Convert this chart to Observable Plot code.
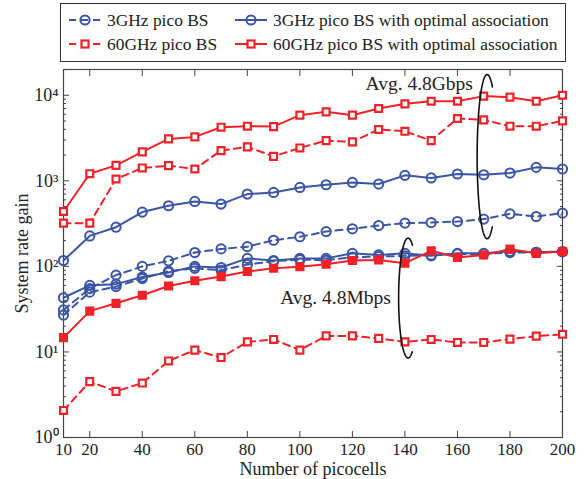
<!DOCTYPE html>
<html><head><meta charset="utf-8">
<script src="https://cdn.jsdelivr.net/npm/d3@7"></script>
<script src="https://cdn.jsdelivr.net/npm/@observablehq/plot@0.6"></script>
<style>
body{margin:0;background:#fff;font-family:"Liberation Serif",serif}
#wrap{position:relative;width:587px;height:479px;overflow:hidden}
#legend{position:absolute;left:60px;top:3px;width:506px;height:59px;border:1.3px solid #333;box-sizing:border-box}
.item{position:absolute;display:flex;align-items:center;font-size:17.4px;color:#222;white-space:nowrap;height:20px}
.item svg{margin-right:5px}
#chart{position:absolute;left:0;top:66px}
</style></head><body>
<div id="wrap"><div id="legend"></div><div id="chart"></div></div>
<script>
// ---- data ----
const picocells = [10,20,30,40,50,60,70,80,90,100,110,120,130,140,150,160,170,180,190,200];
const xTicks = [10,20,40,60,80,100,120,140,160,180,200];
const yTicks = [1,10,100,1000,10000];
// Avg. 4.8Gbps group
const gbps60Opt  = [438,1211,1515,2176,3090,3260,4230,4345,4300,5850,6400,5850,7000,7940,8510,8510,9770,9500,8510,10000];
const gbps60Pico = [320,320,1050,1413,1503,1374,2254,2490,1932,2423,2950,2850,3980,3790,2950,5350,5160,4345,4345,5020];
const gbps3Opt   = [117,227,287,431,511,574,535,700,731,837,900,957,917,1158,1080,1202,1178,1233,1436,1375];
const gbps3Pico  = [31,55,79,100,116,145,160,170,202,222,255,275,300,320,325,334,357,411,383,419];
// Avg. 4.8Mbps group
const mbps3Opt   = [43,60,62,75,85,100,97,124,117,124,124,142,136,142,133,142,142,150,146,149];
const mbps3Pico  = [27,50,58,72,88,95,90,105,115,120,118,128,130,133,135,140,140,145,146,148];
const mbps60Opt  = [14.7,30,37,46,59,68,76,87,95,99,106,117,119,109,152,127,136,159,142,149];
const mbps60Pico = [2.07,4.5,3.46,4.33,7.85,10.5,8.6,13.1,14.0,10.5,15.4,15.4,14.4,13.1,14.0,12.9,12.9,14.1,15.3,16.1];

const legendNames = ["3GHz pico BS","3GHz pico BS with optimal association","60GHz pico BS","60GHz pico BS with optimal association"];
const annotations = [{label:"Avg. 4.8Gbps", x:125, y:13800},{label:"Avg. 4.8Mbps", x:92.5, y:42.6}];

// ---- styles ----
const BLUE = "#3a55a6", RED = "#ee2229";
const styles = {
  "3GHz pico BS": {color:BLUE, dash:"7,5", symbol:"circle", r:4.6, fill:"none"},
  "3GHz pico BS with optimal association": {color:BLUE, dash:null, symbol:"circle", r:4.6, fill:"none"},
  "60GHz pico BS": {color:RED, dash:"7,5", symbol:"square", r:3.9, fill:"white"},
  "60GHz pico BS with optimal association": {color:RED, dash:null, symbol:"square", r:3.9, fill:"white"}
};
const series = [
  {name:"3GHz pico BS with optimal association", values:gbps3Opt},
  {name:"3GHz pico BS", values:gbps3Pico},
  {name:"3GHz pico BS with optimal association", values:mbps3Opt},
  {name:"3GHz pico BS", values:mbps3Pico},
  {name:"60GHz pico BS", values:gbps60Pico},
  {name:"60GHz pico BS with optimal association", values:gbps60Opt},
  {name:"60GHz pico BS", values:mbps60Pico},
  {name:"60GHz pico BS with optimal association", values:mbps60Opt, filled:true}
];

// annotation ellipses (in x units and log10(y) units)
const ellipses = [{cx:171.3, rx:3.8, cy:3.283, ry:0.96, a0:58},{cx:141.2, rx:3.6, cy:1.63, ry:0.70, a0:62}];
function arc(e){
  const pts=[];
  for(let a=e.a0;a<=360-e.a0;a+=3){const t=a*Math.PI/180;pts.push({x:e.cx+e.rx*Math.cos(t), y:Math.pow(10,e.cy+e.ry*Math.sin(t))});}
  return pts;
}

const sup = {0:"⁰",1:"¹",2:"²",3:"³",4:"⁴"};
const minor = [];
for (const d of [1,10,100,1000]) for (let k=2;k<=9;k++) minor.push(d*k);

const marks = [];
marks.push(Plot.frame({stroke:"#444", strokeWidth:1.2}));
// inward ticks on all four sides
const tk = {tickFormat:()=>"", stroke:"#444", label:null};
marks.push(Plot.axisY({anchor:"left", ticks:yTicks, tickSize:6, dx:6, ...tk}));
marks.push(Plot.axisY({anchor:"left", ticks:minor, tickSize:3, dx:3, ...tk}));
marks.push(Plot.axisY({anchor:"right", ticks:yTicks, tickSize:6, dx:-6, ...tk}));
marks.push(Plot.axisY({anchor:"right", ticks:minor, tickSize:3, dx:-3, ...tk}));
marks.push(Plot.axisX({anchor:"bottom", ticks:xTicks, tickSize:6, dy:-6, ...tk}));
marks.push(Plot.axisX({anchor:"top", ticks:xTicks, tickSize:6, dy:6, ...tk}));
// labels
marks.push(Plot.axisY({anchor:"left", ticks:yTicks, tickSize:0, tickPadding:5, label:null, tickFormat:d=>"10"+sup[Math.round(Math.log10(d))], fontSize:18, fill:"#222"}));
marks.push(Plot.axisX({anchor:"bottom", ticks:xTicks, tickSize:0, tickPadding:5, label:null, fontSize:17, fill:"#222"}));
marks.push(Plot.text(["Number of picocells"], {frameAnchor:"bottom", lineAnchor:"middle", textAnchor:"middle", dy:32, fontSize:18, fill:"#222"}));
marks.push(Plot.text(["System rate gain"], {frameAnchor:"left", textAnchor:"middle", lineAnchor:"middle", rotate:-90, dx:-41, fontSize:18, fill:"#222"}));

for (const s of series){
  const st = styles[s.name];
  const data = picocells.map((n,i)=>({x:n, y:s.values[i]}));
  marks.push(Plot.line(data, {x:"x", y:"y", stroke:st.color, strokeWidth:2, strokeDasharray:st.dash}));
  marks.push(Plot.dot(data, {x:"x", y:"y", symbol:st.symbol, r:st.r, stroke:st.color, strokeWidth:st.symbol==="square"?2.2:2, fill:s.filled?st.color:st.fill}));
}
for (const e of ellipses) marks.push(Plot.line(arc(e), {x:"x", y:"y", stroke:"#111", strokeWidth:1.6}));
marks.push(Plot.text(annotations, {x:"x", y:"y", text:"label", textAnchor:"start", fontSize:19.5, fill:"#222"}));

const chart = Plot.plot({
  width:587, height:413,
  marginLeft:63, marginRight:25, marginTop:3, marginBottom:42,
  style:{fontFamily:"Liberation Serif, serif", fontSize:"16px", background:"white", overflow:"visible"},
  x:{domain:[10,200], label:null},
  y:{type:"log", domain:[1,20000], label:null},
  marks
});
document.getElementById("chart").appendChild(chart);

// legend
const legend = document.getElementById("legend");
const pos = [[7,6],[173,6],[7,30],[173,30]];
legendNames.forEach((name,i)=>{
  const st = styles[name];
  const div = document.createElement("div");
  div.className="item"; div.style.left=pos[i][0]+"px"; div.style.top=pos[i][1]+"px";
  const ns="http://www.w3.org/2000/svg";
  const svg=document.createElementNS(ns,"svg"); svg.setAttribute("width","34"); svg.setAttribute("height","20");
  const ln=document.createElementNS(ns,"line");
  ln.setAttribute("x1","1");ln.setAttribute("x2","33");ln.setAttribute("y1","10");ln.setAttribute("y2","10");
  ln.setAttribute("stroke",st.color);ln.setAttribute("stroke-width","2");
  if(st.dash) ln.setAttribute("stroke-dasharray","7,5");
  svg.appendChild(ln);
  let m;
  if(st.symbol==="circle"){m=document.createElementNS(ns,"circle");m.setAttribute("cx","17");m.setAttribute("cy","10");m.setAttribute("r","4.6");m.setAttribute("fill","none");m.setAttribute("stroke-width","2");}
  else {m=document.createElementNS(ns,"rect");m.setAttribute("x","13.5");m.setAttribute("y","6.5");m.setAttribute("width","7");m.setAttribute("height","7");m.setAttribute("fill","white");m.setAttribute("stroke-width","2.2");}
  m.setAttribute("stroke",st.color); svg.appendChild(m);
  div.appendChild(svg);
  const sp=document.createElement("span"); sp.textContent=name; div.appendChild(sp);
  legend.appendChild(div);
});
</script></body></html>
